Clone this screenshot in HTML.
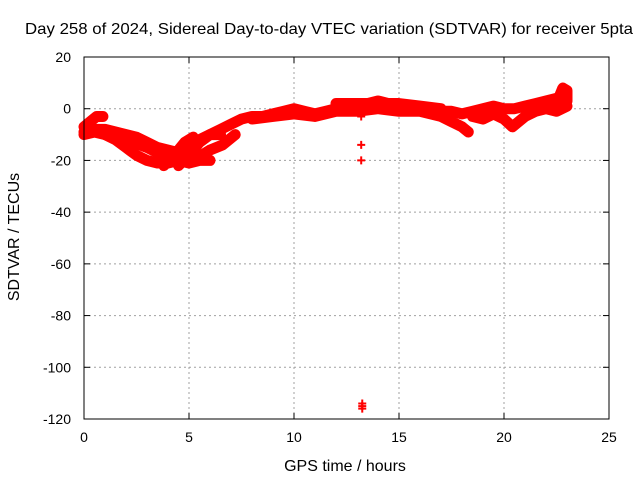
<!DOCTYPE html>
<html><head><meta charset="utf-8"><style>body{margin:0;background:#fff}svg{display:block;font-family:"Liberation Sans",sans-serif}</style></head>
<body>
<svg id="chart" width="640" height="480"></svg>
<script>
const xTicks=[0,5,10,15,20,25];
const yTicks=[20,0,-20,-40,-60,-80,-100,-120];
const s1=[[0,-9],[0.5,-8],[1,-8],[1.5,-9],[2,-10],[2.5,-11],[3,-13],[3.5,-15],[4,-16],[4.5,-17],[5,-16]];
const s2=[[0,-10],[0.5,-9],[1,-10],[1.5,-12],[2,-15],[2.5,-18],[3,-20],[3.5,-21],[4,-21],[4.5,-20],[5,-21],[5.5,-20],[6,-20]];
const s3=[[0,-7],[0.3,-5],[0.6,-3],[0.9,-3]];
const s4=[[3.8,-22],[4.3,-18],[4.8,-13],[5.2,-11]];
const s5=[[4.5,-22],[5,-18],[5.5,-13],[6,-10],[6.5,-10]];
const s6=[[5.2,-20],[6,-16],[6.6,-14],[7.2,-10]];
const s7=[[4.5,-17],[5,-14],[5.5,-12],[6,-10],[6.5,-8],[7,-6],[7.5,-4],[8,-3],[8.5,-3],[9,-2],[9.5,-1],[10,0],[10.5,-1],[11,-2],[11.5,-1],[12,0],[12.5,1],[13,1],[13.5,2],[14,3],[14.5,2],[15,1],[15.5,1],[16,0],[16.5,0],[17,-1],[17.5,-1],[18,-2],[18.5,-1],[19,0],[19.5,1],[20,0],[20.5,0],[21,1],[21.5,2],[22,3],[22.5,4],[22.9,6]];
const s8=[[8,-4],[9,-3],[10,-2],[11,-3],[12,-1],[13,-1],[14,0],[15,-1],[16,-1],[17,-3],[17.5,-5],[18,-7],[18.3,-9]];
const s9=[[18.5,-3],[19,-4],[19.5,-2],[20,-4],[20.4,-7],[21,-3],[21.5,-1],[22,0],[22.5,-1],[23,1]];
const s10=[[22.5,2],[22.8,8],[23,7],[23,3]];
const s11=[[1,-10],[2,-12],[3,-15],[3.5,-17],[4,-19]];
const s12=[[12,2],[13,2],[14,2],[15,2],[16,1],[17,0]];
const outliers=[[13.2,-3],[13.2,-14],[13.2,-20],[13.25,-114],[13.25,-115],[13.25,-116]];
const series=[s1,s2,s3,s4,s5,s6,s7,s8,s9,s10,s11,s12];
const L=84,R=609,T=57,B=419;
const X=v=>L+(v-0)/25*(R-L);
const Y=v=>T+(20-v)/140*(B-T);
const svg=document.getElementById('chart');
const NS='http://www.w3.org/2000/svg';
function mk(t,a,p){const e=document.createElementNS(NS,t);for(const k in a)e.setAttribute(k,a[k]);(p||svg).appendChild(e);return e;}
const grid=mk('g',{});


xTicks.forEach(t=>{
  if(t>0&&t<25){const l=mk('line',{x1:X(t),x2:X(t),y1:T,y2:B,stroke:'#a0a0a0','stroke-dasharray':'2,3'},grid);}
  const tk=mk('line',{x1:X(t),x2:X(t),y1:B,y2:B-6,stroke:'#000'});
  const tk2=mk('line',{x1:X(t),x2:X(t),y1:T,y2:T+6,stroke:'#000'});
  const tx=mk('text',{x:X(t),y:B+23,'text-anchor':'middle','font-size':14});tx.textContent=t;
  
  
});
yTicks.forEach(t=>{
  if(t<20&&t>-120){const l=mk('line',{x1:L,x2:R,y1:Y(t),y2:Y(t),stroke:'#a0a0a0','stroke-dasharray':'2,3'},grid);}
  const tk=mk('line',{x1:L,x2:L+6,y1:Y(t),y2:Y(t),stroke:'#000'});
  const tk2=mk('line',{x1:R,x2:R-6,y1:Y(t),y2:Y(t),stroke:'#000'});
  const tx=mk('text',{x:71,y:Y(t)+5,'text-anchor':'end','font-size':14});tx.textContent=t;
  
  
});
const data=mk('g',{});


series.forEach(s=>{
  const p=mk('polyline',{points:s.map(d=>X(d[0])+','+Y(d[1])).join(' '),fill:'none',stroke:'#f00','stroke-width':11,'stroke-linejoin':'round','stroke-linecap':'round'},data);
  
  
});
outliers.forEach(d=>{
  const x=X(d[0]),y=Y(d[1]);
  const m=mk('path',{d:`M${x-4},${y}H${x+4}M${x},${y-4}V${y+4}`,stroke:'#f00','stroke-width':2},data);
  
  
});
const fr=mk('rect',{x:L,y:T,width:R-L,height:B-T,fill:'none',stroke:'#000'});


const ti=mk('text',{x:25,y:34,'font-size':16,textLength:608,lengthAdjust:'spacingAndGlyphs'});ti.textContent='Day 258 of 2024, Sidereal Day-to-day VTEC variation (SDTVAR) for receiver 5pta';


const xl=mk('text',{x:345,y:471,'text-anchor':'middle','font-size':16});xl.textContent='GPS time / hours';


const yl=mk('text',{x:0,y:0,'text-anchor':'middle','font-size':16,transform:'translate(19,237) rotate(-90)'});yl.textContent='SDTVAR / TECUs';


</script>
</body></html>
